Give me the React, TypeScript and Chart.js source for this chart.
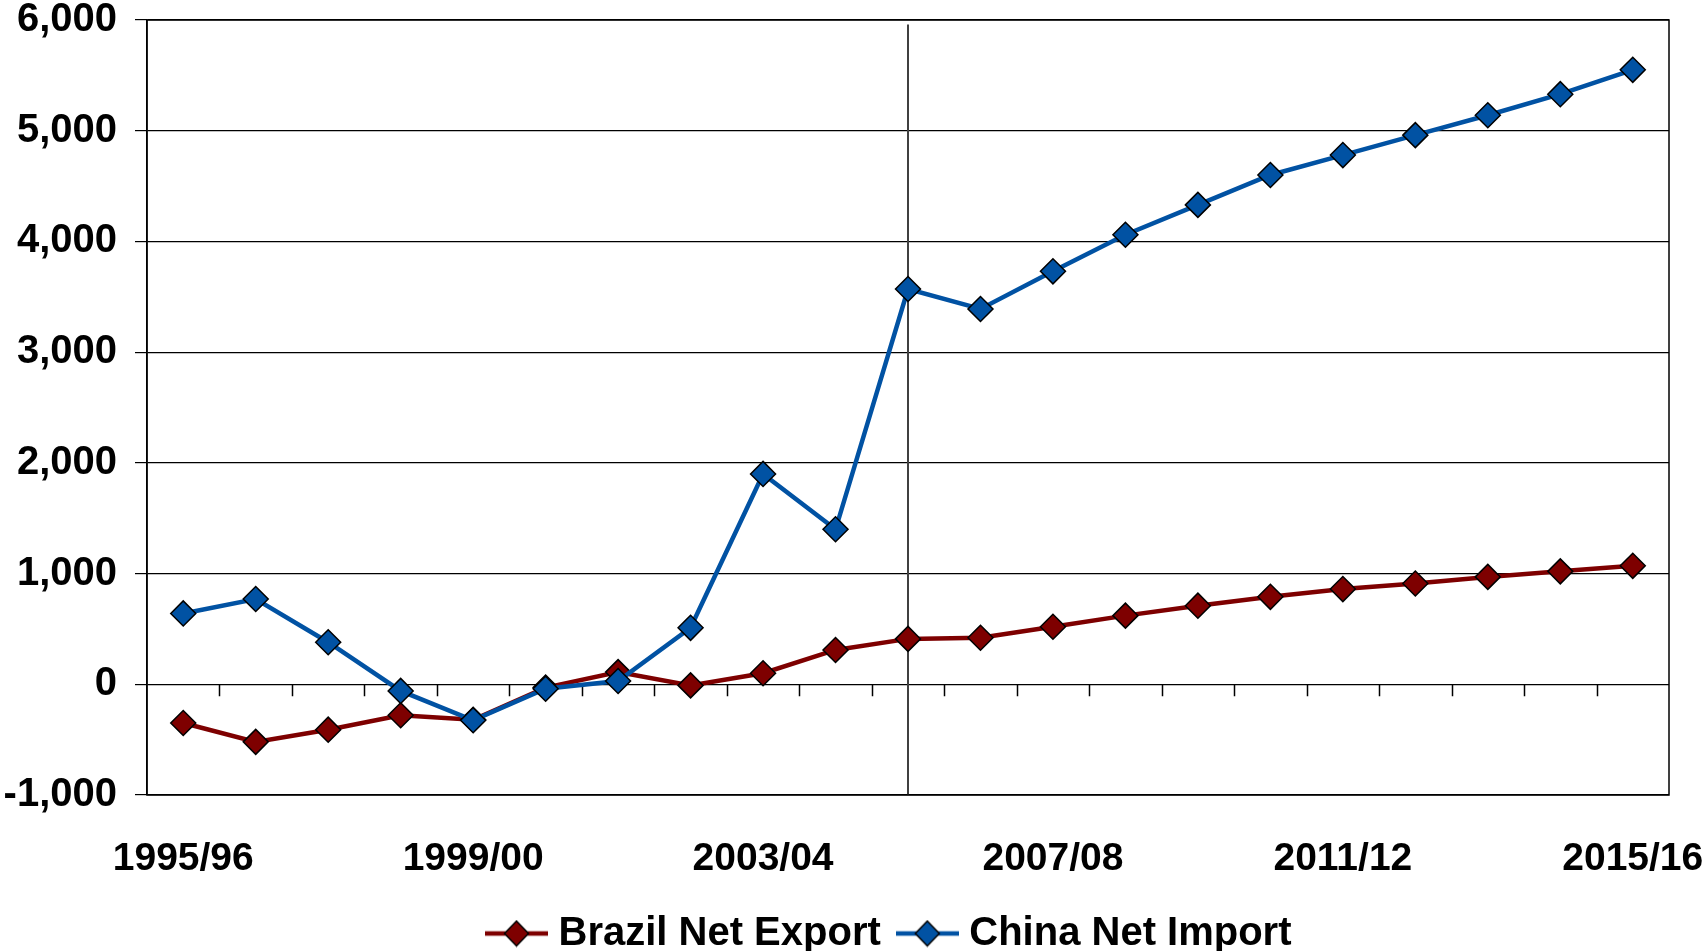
import React, { useEffect, useRef } from "react";
import { Chart, registerables } from "chart.js";

Chart.register(...registerables);

const categories = [
  "1995/96", "1996/97", "1997/98", "1998/99", "1999/00", "2000/01", "2001/02",
  "2002/03", "2003/04", "2004/05", "2005/06", "2006/07", "2007/08", "2008/09",
  "2009/10", "2010/11", "2011/12", "2012/13", "2013/14", "2014/15", "2015/16",
];

const brazilNetExport = [
  -350, -520, -410, -280, -320, -30, 110, -10, 100, 310, 410,
  420, 520, 620, 710, 790, 860, 910, 970, 1020, 1070,
];

const chinaNetImport = [
  640, 770, 380, -60, -325, -40, 30, 510, 1900, 1400, 3570,
  3390, 3730, 4060, 4330, 4600, 4780, 4960, 5140, 5330, 5550,
];

const yTicks = [-1000, 0, 1000, 2000, 3000, 4000, 5000, 6000];
const markerCategory = "2005/06";

const BRAZIL_COLOR = "#7E0000";
const CHINA_COLOR = "#0152A3";
const FONT = "'Liberation Sans', Arial, sans-serif";

function legendImage(color: string): HTMLCanvasElement {
  const c = document.createElement("canvas");
  c.width = 63;
  c.height = 28;
  const ctx = c.getContext("2d")!;
  ctx.strokeStyle = color;
  ctx.lineWidth = 4.5;
  ctx.beginPath();
  ctx.moveTo(0, 14);
  ctx.lineTo(63, 14);
  ctx.stroke();
  ctx.beginPath();
  ctx.moveTo(31.5 - 12, 14);
  ctx.lineTo(31.5, 14 - 12.5);
  ctx.lineTo(31.5 + 12, 14);
  ctx.lineTo(31.5, 14 + 12.5);
  ctx.closePath();
  ctx.fillStyle = color;
  ctx.fill();
  ctx.strokeStyle = "#000";
  ctx.lineWidth = 1.5;
  ctx.stroke();
  return c;
}

const framePlugin = {
  id: "frameAndMarks",
  afterLayout(chart: any) {
    const lg = chart.legend;
    if (lg) {
      lg.left += 58.5;
      lg.right += 58.5;
    }
  },
  beforeDatasetsDraw(chart: any) {
    const { ctx, chartArea } = chart;
    const xs = chart.scales.x;
    const ys = chart.scales.y;
    const y0 = ys.getPixelForValue(0);
    ctx.save();
    const idx = categories.indexOf(markerCategory);
    const vx = xs.getPixelForValue(idx);
    ctx.strokeStyle = "#404040";
    ctx.lineWidth = 2;
    ctx.beginPath();
    ctx.moveTo(vx, chartArea.top + 4.5);
    ctx.lineTo(vx, chartArea.bottom);
    ctx.stroke();
    ctx.strokeStyle = "#000";
    ctx.lineWidth = 1.5;
    const n = categories.length;
    const w = (chartArea.right - chartArea.left) / n;
    ctx.beginPath();
    for (let i = 1; i < n; i++) {
      const x = Math.round(chartArea.left + i * w) + 0.5;
      ctx.moveTo(x, y0);
      ctx.lineTo(x, y0 + 12);
    }
    ctx.stroke();
    ctx.lineWidth = 1.5;
    ctx.strokeRect(chartArea.left, chartArea.top, chartArea.right - chartArea.left, chartArea.bottom - chartArea.top);
    ctx.restore();
  },
};

export default function App() {
  const ref = useRef<HTMLCanvasElement>(null);

  useEffect(() => {
    if (!ref.current) return;
    const imgs = [legendImage(BRAZIL_COLOR), legendImage(CHINA_COLOR)];
    const common = {
      borderWidth: 4.5,
      pointStyle: "rectRot",
      pointRadius: 12.5,
      pointBorderColor: "#000",
      pointBorderWidth: 1.5,
      tension: 0,
    };
    const chart = new Chart(ref.current, {
      type: "line",
      data: {
        labels: categories,
        datasets: [
          {
            ...common,
            label: "Brazil Net Export",
            data: brazilNetExport,
            borderColor: BRAZIL_COLOR,
            backgroundColor: BRAZIL_COLOR,
            pointBackgroundColor: BRAZIL_COLOR,
            order: 1,
          },
          {
            ...common,
            label: "China Net Import",
            data: chinaNetImport,
            borderColor: CHINA_COLOR,
            backgroundColor: CHINA_COLOR,
            pointBackgroundColor: CHINA_COLOR,
            order: 0,
          },
        ] as any,
      },
      options: {
        animation: false,
        responsive: false,
        maintainAspectRatio: false,
        layout: { padding: { left: 0, right: 36, top: 20, bottom: 0 } },
        plugins: {
          tooltip: { enabled: false },
          legend: {
            position: "bottom",
            maxHeight: 62,
            labels: {
              usePointStyle: true,
              pointStyleWidth: 44,
              padding: 24.5,
              color: "#000",
              font: { family: FONT, size: 40, weight: "bold" },
              sort: (a: any, b: any) => a.datasetIndex - b.datasetIndex,
              generateLabels: (ch: any) => {
                const items = (Chart.defaults.plugins.legend.labels as any).generateLabels(ch);
                return items.map((it: any) => ({ ...it, pointStyle: imgs[it.datasetIndex] }));
              },
            },
          },
        },
        scales: {
          x: {
            type: "category",
            offset: true,
            grid: { display: false },
            border: { display: false },
            ticks: {
              autoSkip: false,
              maxRotation: 0,
              minRotation: 0,
              padding: 33,
              color: "#000",
              font: { family: FONT, size: 39, weight: "bold" },
              callback: (_v: any, i: number) => (i % 4 === 0 ? categories[i] : ""),
            },
            afterFit: (s: any) => {
              s.height = 94;
              s.paddingLeft = 0;
              s.paddingRight = 0;
            },
          },
          y: {
            min: -1000,
            max: 6000,
            afterBuildTicks: (s: any) => {
              s.ticks = yTicks.map((v) => ({ value: v }));
            },
            grid: { color: "#000", lineWidth: 1.2, tickLength: 12, drawTicks: true },
            border: { display: true, color: "#000", width: 1.5 },
            ticks: {
              padding: 18,
              color: "#000",
              font: { family: FONT, size: 40, weight: "bold", lineHeight: 1 },
              callback: (v: any) => Number(v).toLocaleString("en-US"),
            },
            afterFit: (s: any) => {
              s.width = 147;
              s.paddingTop = 0;
              s.paddingBottom = 0;
            },
          },
        },
      },
      plugins: [framePlugin],
    });
    return () => chart.destroy();
  }, []);

  return (
    <div style={{ position: "absolute", left: 0, top: 0, width: 1705, height: 951, background: "#fff" }}>
      <canvas ref={ref} width={1705} height={951} style={{ display: "block" }} />
    </div>
  );
}
